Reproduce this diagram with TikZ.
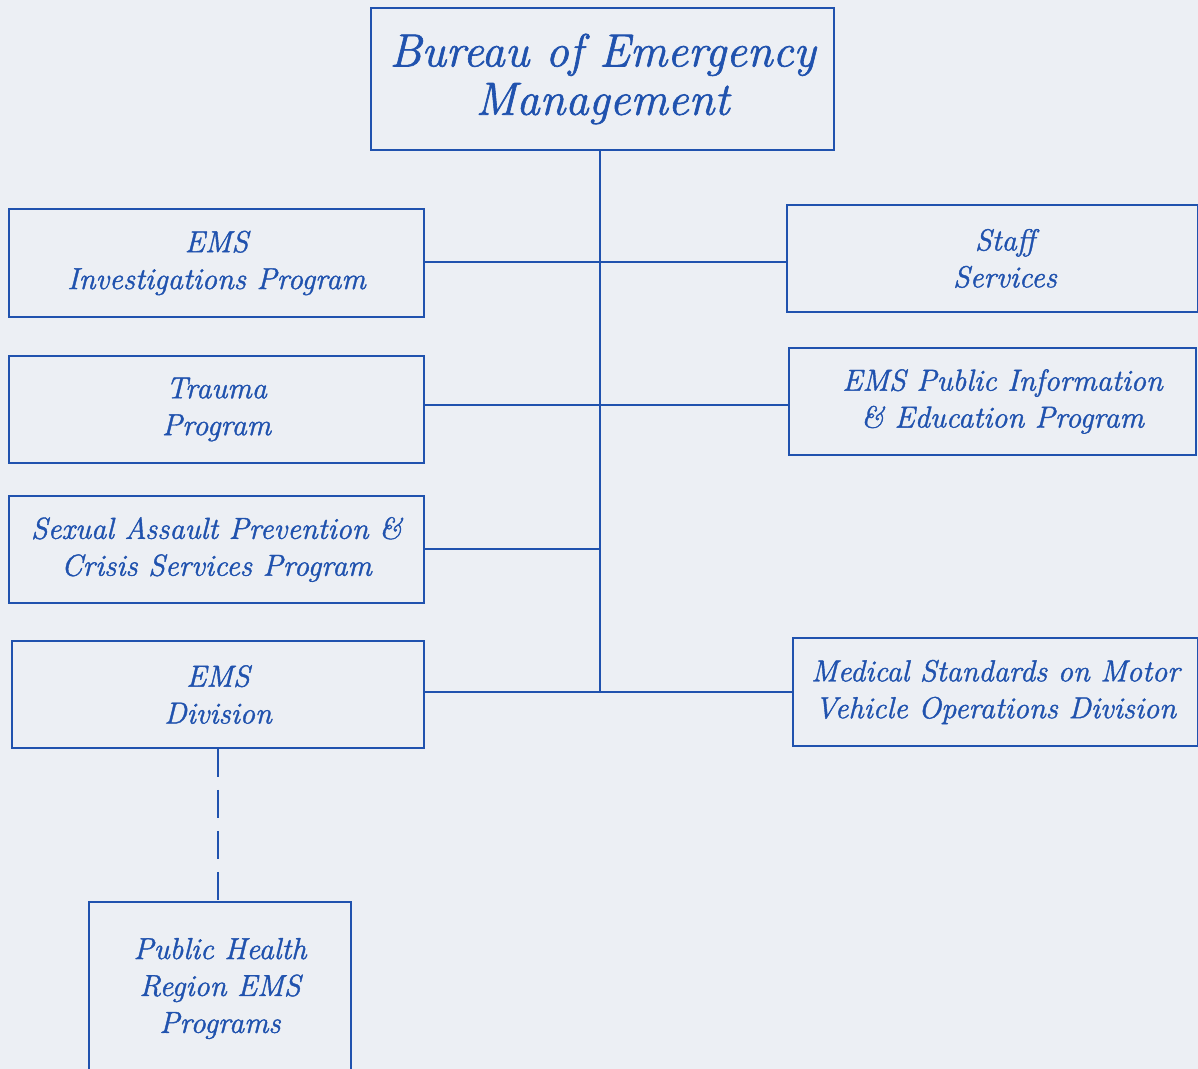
\documentclass[tikz,border=0pt]{standalone}
\usepackage{fontspec}
\setmainfont{Latin Modern Roman}[ItalicFeatures={FakeBold=1.3}]
\begin{document}
\definecolor{ink}{RGB}{32,82,174}
\definecolor{paper}{RGB}{236,239,244}
\begin{tikzpicture}[x=0.02cm,y=-0.02cm,
  box/.style={draw=ink, line width=1.1pt, text=ink, align=center, inner sep=0pt,
    font=\fontsize{17.3}{21}\selectfont\itshape},
  conn/.style={draw=ink, line width=1.1pt},
  dashconn/.style={draw=ink, line width=1.2pt, dash pattern=on 15.9pt off 7.4pt}]
\useasboundingbox (0,0) rectangle (1198,1069);
\fill[paper] (0,0) rectangle (1198,1069);
\clip (0,0) rectangle (1198,1069);
\node[box, minimum width=9.26cm, minimum height=2.84cm,
  font=\fontsize{26.5}{27.5}\selectfont\itshape] (bureau) at (602.5,79)
  {Bureau of Emergency\\Management};
\node[box, minimum width=8.3cm, minimum height=2.16cm] (inv) at (216.5,263) {EMS\\Investigations Program};
\node[box, minimum width=8.22cm, minimum height=2.14cm] (staff) at (992.5,258.5) {\hspace*{0.5cm}Staff\\\hspace*{0.5cm}Services};
\node[box, minimum width=8.3cm, minimum height=2.14cm] (trauma) at (216.5,409.5) {Trauma\\Program};
\node[box, minimum width=8.14cm, minimum height=2.14cm] (pubinfo) at (992.5,401.5) {\hspace*{0.4cm}EMS Public Information\\\hspace*{0.4cm}\& Education Program};
\node[box, minimum width=8.3cm, minimum height=2.14cm] (sexual) at (216.5,549.5) {Sexual Assault Prevention \&\\Crisis Services Program};
\node[box, minimum width=8.24cm, minimum height=2.14cm] (division) at (218,694.5) {EMS\\Division};
\node[box, minimum width=8.1cm, minimum height=2.16cm] (medical) at (995.5,692) {Medical Standards on Motor\\Vehicle Operations Division};
\node[box, minimum width=5.24cm, minimum height=3.46cm] (health) at (220,988.5) {Public Health\\Region EMS\\Programs};
\coordinate (j1) at (600,262);
\coordinate (j2) at (600,405);
\coordinate (j3) at (600,549);
\coordinate (j4) at (600,692);
\draw[conn] (bureau.south -| j1) -- (j4);
\draw[conn] (j1 -| inv.east) -- (j1 -| staff.west);
\draw[conn] (j2 -| trauma.east) -- (j2 -| pubinfo.west);
\draw[conn] (j3 -| sexual.east) -- (j3);
\draw[conn] (j4 -| division.east) -- (j4 -| medical.west);
\draw[dashconn] (division.south) -- (division.south |- health.north);
\end{tikzpicture}
\end{document}
